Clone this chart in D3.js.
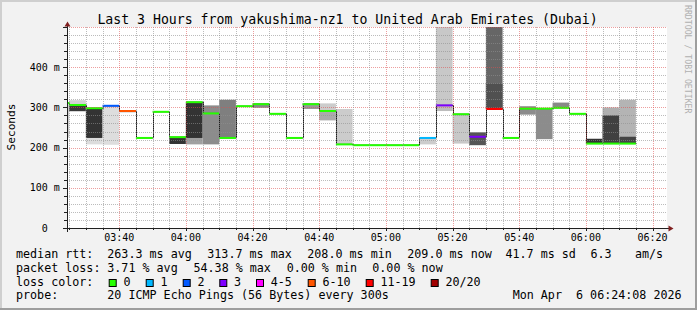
<!DOCTYPE html>
<html><head><meta charset="utf-8">
<script src="https://cdn.jsdelivr.net/npm/d3@7"></script>
<style>
body{margin:0;background:#f2f2f2;}
svg{display:block;}
text{font-family:"DejaVu Sans Mono",monospace;white-space:pre;}
</style>
</head><body>
<svg id="c" width="697" height="310"></svg>
<script>
// ---------- data ----------
const stepStarts = ["03:20","03:25","03:30","03:35","03:40","03:45","03:50","03:55",
  "04:00","04:05","04:10","04:15","04:20","04:25","04:30","04:35","04:40","04:45",
  "04:50","04:55","05:00","05:05","05:10","05:15","05:20","05:25","05:30","05:35",
  "05:40","05:45","05:50","05:55","06:00","06:05","06:10"];
// median rtt (ms)
const medianMs = [311,306,298,304,291,224,289,226,313,285,224,303,308,284,224,308,291,208,
  206,206,206,206,224,305,283,227,296,224,297,297,299,284,210,210,210];
// loss class index (0:"0",1:"1",2:"2",3:"3",4:"4-5",5:"6-10",6:"11-19",7:"20/20")
const lossClass = [0,0,0,2,5,0,0,0,0,0,0,0,0,0,0,0,0,0,0,0,0,0,1,3,0,3,6,0,0,0,0,0,0,0,0];
// smoke: outer band (lo, hi, grey shade) and inner band
const smokeOuterLo = [225,289,208,207,288,null,null,209,208,208,224,null,299,null,null,296,268,208,
  null,null,null,null,208,291,210,206,296,null,282,221,299,null,210,210,210];
const smokeOuterHi = [313,318,298,304,292,null,null,226,313,305,319,null,310,null,null,310,310,296,
  null,null,null,null,224,520,283,238,520,null,303,298,312,null,222,300,319];
const smokeOuterShade = [205,210,220,221,136,0,0,51,160,140,127,0,136,0,0,153,204,204,
  0,0,0,0,204,200,200,85,102,0,140,140,136,0,51,176,180];
const smokeInnerLo = [null,291,224,null,null,null,null,null,224,null,null,null,null,null,null,null,268,null,
  null,null,null,null,null,291,null,null,296,null,null,null,null,null,null,210,210];
const smokeInnerHi = [null,305,298,null,null,null,null,null,313,null,null,null,null,null,null,null,291,null,
  null,null,null,null,null,305,null,null,359,null,null,null,null,null,null,280,227];
const smokeInnerShade = [0,56,51,0,0,0,0,0,51,0,0,0,0,0,0,0,170,0,
  0,0,0,0,0,188,0,0,80,0,0,0,0,0,0,64,68];

const yTicks = [0,100,200,300,400];
const yTickLabels = ["0","100 m","200 m","300 m","400 m"];
const xTickLabels = ["03:40","04:00","04:20","04:40","05:00","05:20","05:40","06:00","06:20"];
const lossLabels = ["0","1","2","3","4-5","6-10","11-19","20/20"];
const lossColors = ["#26ff00","#00b8ff","#0059ff","#7e00ff","#ff00ff","#ff5500","#ff0000","#a10000"];

const titleText = "Last 3 Hours from yakushima-nz1 to United Arab Emirates (Dubai)";
const legendMedian = ["median rtt:","263.3 ms avg","313.7 ms max","208.0 ms min","209.0 ms now","41.7 ms sd","6.3","am/s"];
const legendLoss = ["packet loss:","3.71 % avg","54.38 % max","0.00 % min","0.00 % now"];
const probeText = ["probe:","20 ICMP Echo Pings (56 Bytes) every 300s","Mon Apr  6 06:24:08 2026"];

// ---------- drawing ----------
const svg = d3.select("#c");
const W = 697, H = 310;
const day = "2026-04-06T";
const T = s => new Date(day + s + ":00");
const tStart = new Date(day + "03:24:20"), tEnd = new Date(day + "06:24:20");
const x = d3.scaleTime().domain([tStart, tEnd]).range([67, 667]);
const y = d3.scaleLinear().domain([0, 500]).range([228, 27]);
const grey = v => d3.rgb(v, v, v).toString();

// background + 3D border
svg.append("rect").attr("width", W).attr("height", H).attr("fill", "#f2f2f2");
svg.append("rect").attr("x",0).attr("y",0).attr("width",W).attr("height",2).attr("fill","#cfcfcf");
svg.append("rect").attr("x",0).attr("y",0).attr("width",2).attr("height",H).attr("fill","#cfcfcf");
svg.append("rect").attr("x",0).attr("y",H-2).attr("width",W).attr("height",2).attr("fill","#9e9e9e");
svg.append("rect").attr("x",W-2).attr("y",0).attr("width",2).attr("height",H).attr("fill","#9e9e9e");

// canvas
svg.append("rect").attr("x", 67).attr("y", 27).attr("width", 600).attr("height", 201).attr("fill", "#fff");
svg.append("clipPath").attr("id","clip").append("rect").attr("x",67).attr("y",27).attr("width",600).attr("height",201);

const plot = svg.append("g").attr("clip-path","url(#clip)");
const steps = stepStarts.map((s,i) => ({t0: T(s), t1: new Date(T(s).getTime()+300000), i}));

// smoke
steps.forEach(d => {
  const i = d.i;
  if (smokeOuterLo[i] != null) {
    plot.append("rect").attr("x", x(d.t0)).attr("width", x(d.t1)-x(d.t0))
      .attr("y", y(smokeOuterHi[i])).attr("height", y(smokeOuterLo[i]) - y(smokeOuterHi[i]))
      .attr("fill", grey(smokeOuterShade[i]));
  }
  if (smokeInnerLo[i] != null) {
    plot.append("rect").attr("x", x(d.t0)).attr("width", x(d.t1)-x(d.t0))
      .attr("y", y(smokeInnerHi[i])).attr("height", y(smokeInnerLo[i]) - y(smokeInnerHi[i]))
      .attr("fill", grey(smokeInnerShade[i]));
  }
});

// black median step line
const pts = steps.map(d => [d.t0, medianMs[d.i]]);
pts.push([steps[steps.length-1].t1, medianMs[medianMs.length-1]]);
plot.append("path").datum(pts)
  .attr("d", d3.line().x(p => Math.round(x(p[0]))+0.5).y(p => y(p[1])).curve(d3.curveStepAfter))
  .attr("fill","none").attr("stroke","#202020").attr("stroke-width",1);

// coloured median by loss
steps.forEach(d => {
  plot.append("line").attr("x1", x(d.t0)).attr("x2", x(d.t1))
    .attr("y1", y(medianMs[d.i])).attr("y2", y(medianMs[d.i]))
    .attr("stroke", lossColors[lossClass[d.i]]).attr("stroke-width", 2);
});

// grid (on top, like rrdtool)
const grid = svg.append("g");
d3.range(0, 501, 20).forEach(v => {
  if (v === 0) return;
  const major = v % 100 === 0;
  grid.append("line").attr("x1", 67).attr("x2", 667).attr("y1", Math.round(y(v))+0.5).attr("y2", Math.round(y(v))+0.5)
    .attr("stroke", major ? "rgba(222,79,79,0.55)" : "rgba(143,143,143,0.6)")
    .attr("stroke-dasharray","1,1");
});
const minorTimes = d3.timeMinute.every(5).range(tStart, tEnd);
minorTimes.forEach(t => {
  const major = t.getMinutes() % 20 === 0;
  const xx = Math.round(x(t))+0.5;
  grid.append("line").attr("x1", xx).attr("x2", xx).attr("y1", 27).attr("y2", 228)
    .attr("stroke", major ? "rgba(222,79,79,0.55)" : "rgba(143,143,143,0.6)")
    .attr("stroke-dasharray","1,1");
  grid.append("line").attr("x1", xx).attr("x2", xx).attr("y1", 228).attr("y2", major ? 231 : 230)
    .attr("stroke", "#202020");
});
d3.range(0, 501, 20).forEach(v => {
  const yy = Math.round(y(v))+0.5;
  grid.append("line").attr("x1", v % 100 === 0 ? 63 : 64).attr("x2", 67).attr("y1", yy).attr("y2", yy).attr("stroke","#202020");
});

// axes
svg.append("line").attr("x1", 63).attr("x2", 670).attr("y1", 228.5).attr("y2", 228.5).attr("stroke","#202020");
svg.append("line").attr("x1", 67.5).attr("x2", 67.5).attr("y1", 232).attr("y2", 24).attr("stroke","#202020");
svg.append("path").attr("d","M673.5,228.5L668.5,225.5L668.5,231.5Z").attr("fill","#802020");
svg.append("path").attr("d","M67.5,21.5L64.5,26.5L70.5,26.5Z").attr("fill","#802020");

// y tick labels
yTicks.forEach((v,i) => {
  const parts = yTickLabels[i].split(" ");
  svg.append("text").attr("x", 47.8).attr("y", y(v)+3.6).attr("text-anchor","end")
    .attr("font-size", 10).attr("fill","#000").text(parts[0]);
  if (parts[1]) svg.append("text").attr("x", 53.8).attr("y", y(v)+3.6)
    .attr("font-size", 10).attr("fill","#000").text(parts[1]);
});
// x tick labels
xTickLabels.forEach(s => {
  svg.append("text").attr("x", x(T(s))).attr("y", 241).attr("text-anchor","middle")
    .attr("font-size", 10).attr("fill","#000").text(s);
});

// title
svg.append("text").attr("x", 347.5).attr("y", 23.5).attr("text-anchor","middle")
  .attr("font-size", 13.2).attr("fill","#000").text(titleText);
// y label
svg.append("text").attr("transform","translate(15,127) rotate(-90)").attr("text-anchor","middle")
  .attr("font-size", 11.2).attr("fill","#000").text("Seconds");
// watermark
svg.append("text").attr("transform","translate(685,5) rotate(90)")
  .attr("font-size", 8.2).attr("fill","#b0b0b0").text("RRDTOOL / TOBI OETIKER");

// legend
const lf = 11.7;
const medX = [16,107.3,207.3,307.3,407.3,505.5,590.5,635];
legendMedian.forEach((s,i) => svg.append("text").attr("x", medX[i]).attr("y", 258.3).attr("font-size", lf).text(s));
const lossX = [16,107.3,193.5,286.7,372.3];
legendLoss.forEach((s,i) => svg.append("text").attr("x", lossX[i]).attr("y", 271.8).attr("font-size", lf).text(s));
svg.append("text").attr("x", 16).attr("y", 285.5).attr("font-size", lf).text("loss color:");
const boxX = [108.7,145.7,182.7,219.3,256,307.7,365.7,430.7];
lossLabels.forEach((s,i) => {
  svg.append("rect").attr("x", boxX[i]+0.5).attr("y", 279.5).attr("width", 7).attr("height", 7)
    .attr("fill", lossColors[i]).attr("stroke","#000").attr("stroke-width",1);
  svg.append("text").attr("x", boxX[i]+14.7).attr("y", 285.5).attr("font-size", lf).text(s);
});
const probeX = [16,107.3,512.7];
probeText.forEach((s,i) => svg.append("text").attr("x", probeX[i]).attr("y", 299.3).attr("font-size", lf).text(s));
</script>
</body></html>
